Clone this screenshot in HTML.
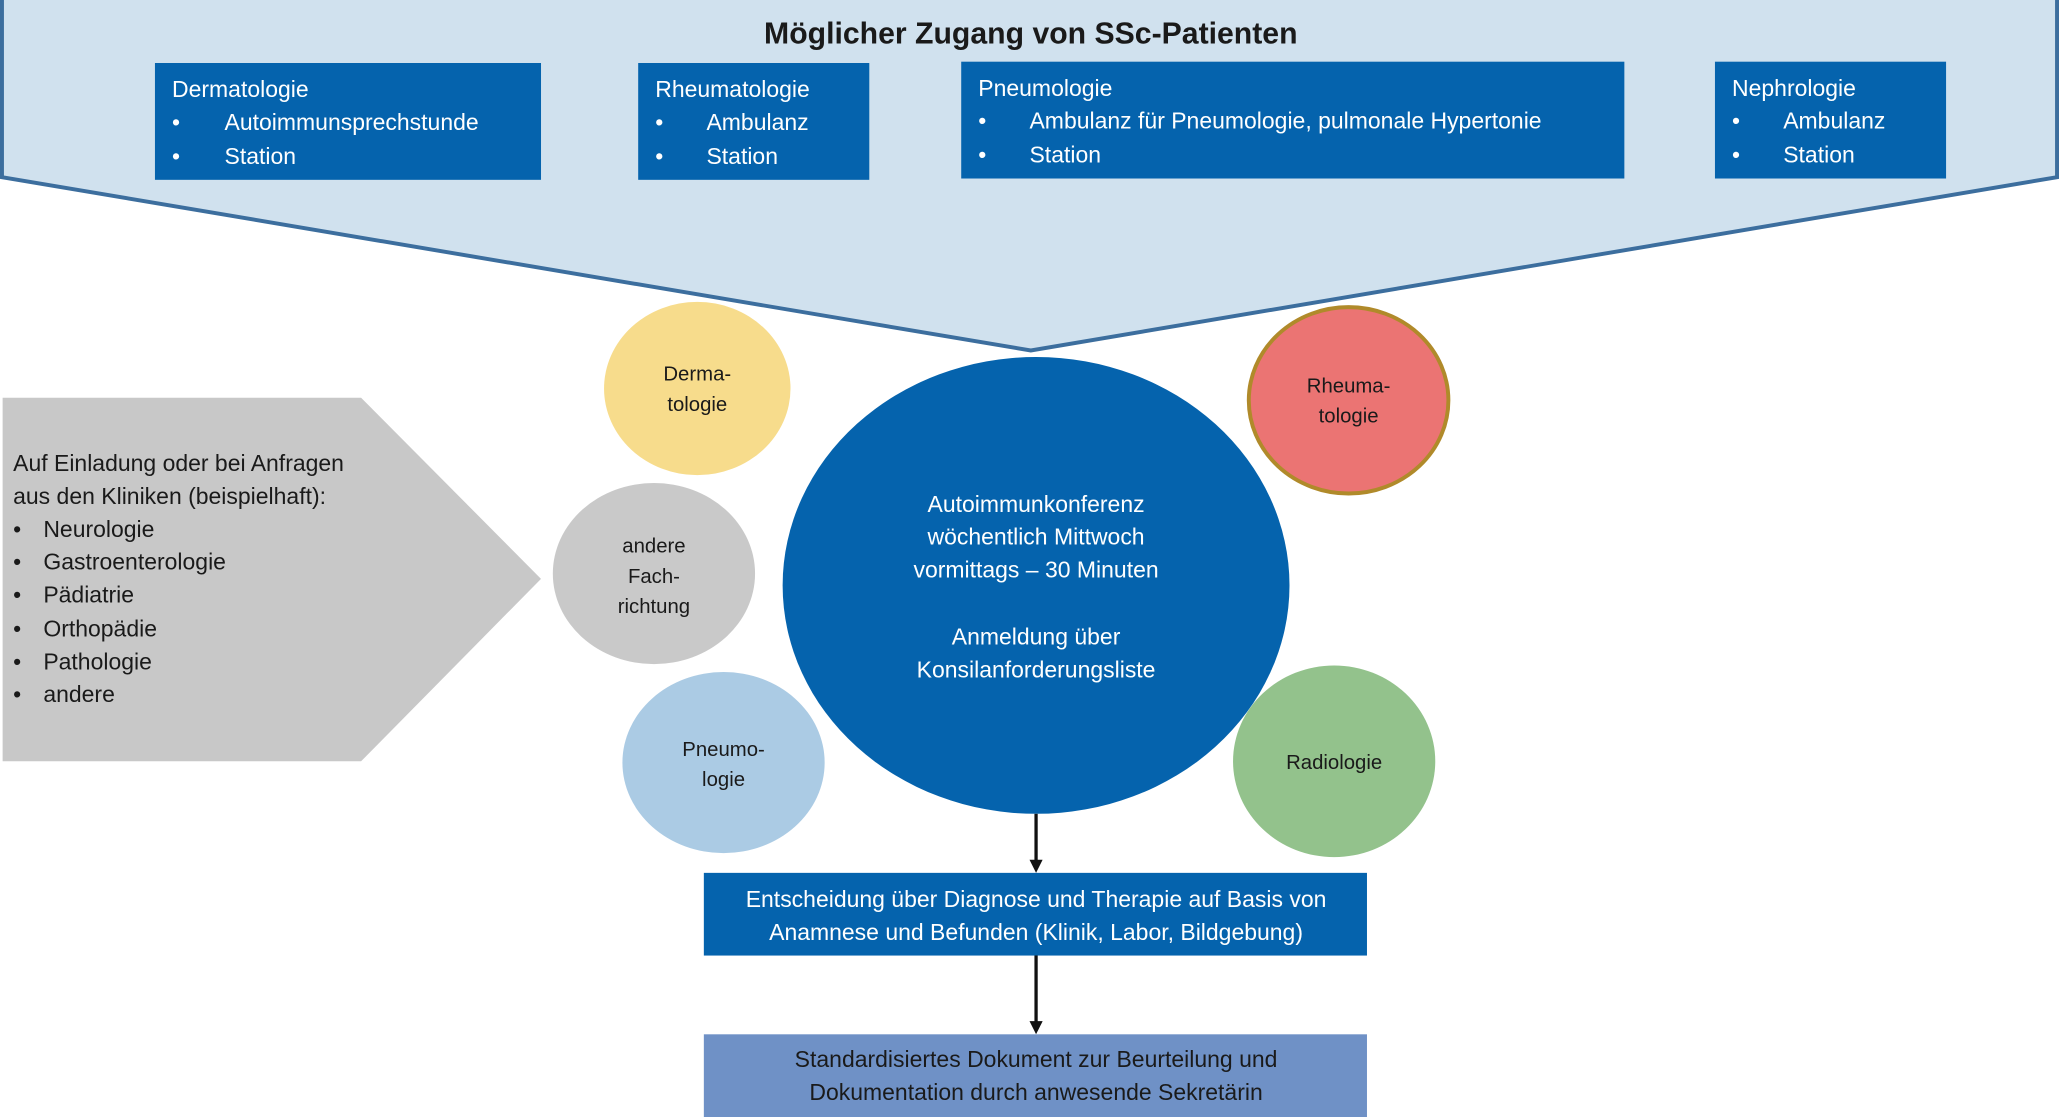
<!DOCTYPE html>
<html><head><meta charset="utf-8"><style>
html,body{margin:0;padding:0;background:#fff;}
svg{display:block;}
text{font-family:"Liberation Sans",sans-serif;}
</style></head><body>
<svg width="2059" height="1117" viewBox="0 0 1568 851" preserveAspectRatio="none" xmlns="http://www.w3.org/2000/svg">
<defs><marker id="ah" markerWidth="10" markerHeight="10" refX="5" refY="5" orient="auto" markerUnits="userSpaceOnUse"><path d="M0,0 L10,5 L0,10 z" fill="#111"/></marker></defs>
<polygon points="1.5,-2 1566.5,-2 1566.5,135 785,267 1.5,135" fill="#d0e1ee" stroke="#3c6e9e" stroke-width="3"/>
<text x="785" y="33" text-anchor="middle" font-size="23" font-weight="bold" fill="#1a1a1a">Möglicher Zugang von SSc-Patienten</text>
<g fill="#0563ad">
<rect x="118" y="48" width="294" height="89"/>
<rect x="486" y="48" width="176" height="89"/>
<rect x="732" y="47" width="505" height="89"/>
<rect x="1306" y="47" width="176" height="89"/>
</g>
<g fill="#fff" font-size="17.5">
<text x="131" y="74">Dermatologie</text><text x="131" y="99">•</text><text x="171" y="99">Autoimmunsprechstunde</text><text x="131" y="125">•</text><text x="171" y="125">Station</text>
<text x="499" y="74">Rheumatologie</text><text x="499" y="99">•</text><text x="538" y="99">Ambulanz</text><text x="499" y="125">•</text><text x="538" y="125">Station</text>
<text x="745" y="73">Pneumologie</text><text x="745" y="98">•</text><text x="784" y="98">Ambulanz für Pneumologie, pulmonale Hypertonie</text><text x="745" y="124">•</text><text x="784" y="124">Station</text>
<text x="1319" y="73">Nephrologie</text><text x="1319" y="98">•</text><text x="1358" y="98">Ambulanz</text><text x="1319" y="124">•</text><text x="1358" y="124">Station</text>
</g>
<polygon points="2,303 275,303 412,441 275,580 2,580" fill="#c8c8c8"/>
<g fill="#1a1a1a" font-size="17.5">
<text x="10" y="359">Auf Einladung oder bei Anfragen</text>
<text x="10" y="384">aus den Kliniken (beispielhaft):</text>
<text x="10" y="409">•</text><text x="33" y="409">Neurologie</text>
<text x="10" y="434">•</text><text x="33" y="434">Gastroenterologie</text>
<text x="10" y="459">•</text><text x="33" y="459">Pädiatrie</text>
<text x="10" y="485">•</text><text x="33" y="485">Orthopädie</text>
<text x="10" y="510">•</text><text x="33" y="510">Pathologie</text>
<text x="10" y="535">•</text><text x="33" y="535">andere</text>
</g>
<ellipse cx="531" cy="296" rx="71" ry="66" fill="#f7dc8c"/>
<ellipse cx="498" cy="437" rx="77" ry="69" fill="#c9c9c9"/>
<ellipse cx="551" cy="581" rx="77" ry="69" fill="#abcbe4"/>
<ellipse cx="789" cy="446" rx="193" ry="174" fill="#0563ad"/>
<ellipse cx="1027" cy="305" rx="76" ry="71" fill="#eb7473" stroke="#b08a2a" stroke-width="3"/>
<ellipse cx="1016" cy="580" rx="77" ry="73" fill="#93c28c"/>
<g fill="#1a1a1a" font-size="15.5" text-anchor="middle">
<text x="531" y="290">Derma-</text><text x="531" y="313">tologie</text>
<text x="498" y="421">andere</text><text x="498" y="444">Fach-</text><text x="498" y="467">richtung</text>
<text x="551" y="576">Pneumo-</text><text x="551" y="599">logie</text>
<text x="1027" y="299">Rheuma-</text><text x="1027" y="322">tologie</text>
<text x="1016" y="586">Radiologie</text>
</g>
<g fill="#fff" font-size="17.5" text-anchor="middle">
<text x="789" y="390">Autoimmunkonferenz</text>
<text x="789" y="415">wöchentlich Mittwoch</text>
<text x="789" y="440">vormittags – 30 Minuten</text>
<text x="789" y="491">Anmeldung über</text>
<text x="789" y="516">Konsilanforderungsliste</text>
</g>
<line x1="789" y1="620" x2="789" y2="660" stroke="#111" stroke-width="2.5" marker-end="url(#ah)"/>
<rect x="536" y="665" width="505" height="63" fill="#0563ad"/>
<text x="789" y="691" text-anchor="middle" fill="#fff" font-size="17.5">Entscheidung über Diagnose und Therapie auf Basis von</text>
<text x="789" y="716" text-anchor="middle" fill="#fff" font-size="17.5">Anamnese und Befunden (Klinik, Labor, Bildgebung)</text>
<line x1="789" y1="728" x2="789" y2="783" stroke="#111" stroke-width="2.5" marker-end="url(#ah)"/>
<rect x="536" y="788" width="505" height="63" fill="#6f91c6"/>
<text x="789" y="813" text-anchor="middle" fill="#1a1a1a" font-size="17.5">Standardisiertes Dokument zur Beurteilung und</text>
<text x="789" y="838" text-anchor="middle" fill="#1a1a1a" font-size="17.5">Dokumentation durch anwesende Sekretärin</text>
</svg>
</body></html>
